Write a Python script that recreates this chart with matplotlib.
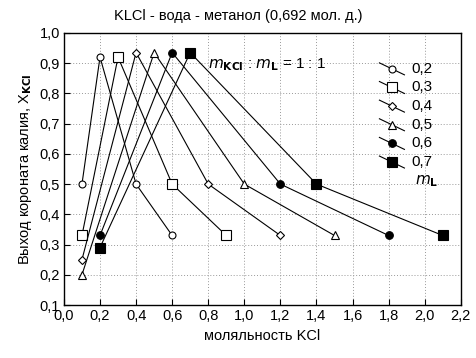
import matplotlib
matplotlib.use("Agg")
import matplotlib.pyplot as plt
from matplotlib.lines import Line2D

plt.rcParams['font.family'] = ['Liberation Sans', 'DejaVu Sans']

mL_labels = ["0,2", "0,3", "0,4", "0,5", "0,6", "0,7"]
x_series = [
    [0.1, 0.2, 0.4, 0.6],
    [0.1, 0.3, 0.6, 0.9],
    [0.1, 0.4, 0.8, 1.2],
    [0.1, 0.5, 1.0, 1.5],
    [0.2, 0.6, 1.2, 1.8],
    [0.2, 0.7, 1.4, 2.1],
]
y_series = [
    [0.50, 0.92, 0.50, 0.33],
    [0.33, 0.92, 0.50, 0.33],
    [0.25, 0.935, 0.50, 0.33],
    [0.20, 0.935, 0.50, 0.33],
    [0.33, 0.935, 0.50, 0.33],
    [0.29, 0.935, 0.50, 0.33],
]
markers = ['o', 's', 'D', '^', 'o', 's']
fills = ['white', 'white', 'white', 'white', 'black', 'black']
msizes = [5, 6.5, 4.5, 5.5, 5.5, 7]

xticks = [0.0, 0.2, 0.4, 0.6, 0.8, 1.0, 1.2, 1.4, 1.6, 1.8, 2.0, 2.2]
yticks = [0.1, 0.2, 0.3, 0.4, 0.5, 0.6, 0.7, 0.8, 0.9, 1.0]

fig = plt.figure(figsize=(4.77, 3.58), dpi=100)
ax = fig.add_axes([0.134, 0.148, 0.832, 0.760])

for xs, ys, m, fc, ms in zip(x_series, y_series, markers, fills, msizes):
    ax.plot(xs, ys, color='black', lw=0.8, marker=m, markersize=ms,
            markerfacecolor=fc, markeredgecolor='black', markeredgewidth=0.8)

ax.set_xlim(0.0, 2.2)
ax.set_ylim(0.1, 1.0)
ax.set_xticks(xticks)
ax.set_yticks(yticks)
ax.set_xticklabels([f"{v:.1f}".replace('.', ',') for v in xticks], fontsize=10.5)
ax.set_yticklabels([f"{v:.1f}".replace('.', ',') for v in yticks], fontsize=10.5)
ax.tick_params(direction='in', length=4, width=0.8, pad=3)
ax.grid(True, linestyle=(0, (1, 2)), color='#999999', lw=0.7)
for s in ax.spines.values():
    s.set_linewidth(1.0)

ax.set_xlabel("моляльность KCl", fontsize=10.5, labelpad=4)
ax.set_ylabel(r"Выход короната калия, X$_{\mathbf{KCl}}$", fontsize=10.5, labelpad=4)
fig.text(0.5, 0.955, "KLCl - вода - метанол (0,692 мол. д.)", ha='center', va='center', fontsize=10.5)

ax.text(0.362, 0.885, r"$\mathit{m}_{\mathbf{KCl}}$ : $\mathit{m}_{\mathbf{L}}$ = 1 : 1",
        transform=ax.transAxes, fontsize=11, ha='left', va='center')

# legend glyphs
x0, x1 = 0.795, 0.858
yt = 0.868
dy = 0.0685
for i, (m, fc, ms, lab) in enumerate(zip(markers, fills, msizes, mL_labels)):
    yc = yt - i * dy
    ax.add_line(Line2D([x0, x1], [yc + 0.022, yc - 0.022], transform=ax.transAxes,
                       color='black', lw=0.8))
    ax.add_line(Line2D([(x0 + x1) / 2], [yc], transform=ax.transAxes, marker=m,
                       markersize=ms, markerfacecolor=fc, markeredgecolor='black',
                       markeredgewidth=0.8, lw=0))
    ax.text(0.875, yc, lab, transform=ax.transAxes, fontsize=11, ha='left', va='center')
ax.text(0.885, yt - 6 * dy, r"$\mathit{m}_{\mathbf{L}}$", transform=ax.transAxes,
        fontsize=11, ha='left', va='center')

fig.savefig("out.png", dpi=100)
